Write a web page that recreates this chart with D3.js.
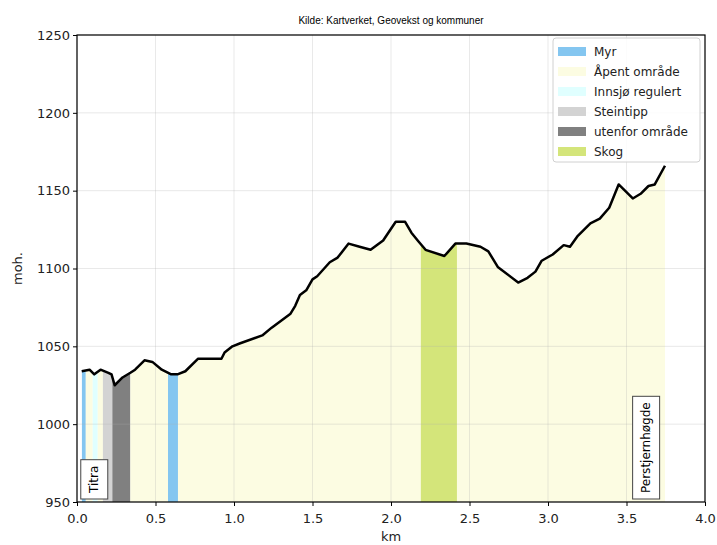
<!DOCTYPE html>
<html>
<head>
<meta charset="utf-8">
<script src="https://cdn.jsdelivr.net/npm/d3@7"></script>
<style>
  body { margin: 0; background: #fff; }
  svg { font-family: "DejaVu Sans", sans-serif; }
</style>
</head>
<body>
<svg id="chart" width="717" height="545"></svg>
<script>
// profile: distance (km) and elevation (moh.)
const distKm = [0.03, 0.08, 0.11, 0.15, 0.20, 0.22, 0.24, 0.29, 0.34, 0.37, 0.43, 0.48, 0.54, 0.60, 0.64, 0.69,
  0.77, 0.92, 0.94, 0.99, 1.04, 1.18, 1.24, 1.36, 1.39, 1.42, 1.46, 1.50, 1.53, 1.61, 1.66, 1.73, 1.80, 1.87,
  1.95, 2.03, 2.09, 2.13, 2.17, 2.22, 2.34, 2.41, 2.48, 2.57, 2.62, 2.68, 2.81, 2.87, 2.92, 2.96, 3.03, 3.10,
  3.14, 3.19, 3.27, 3.33, 3.39, 3.45, 3.54, 3.59, 3.64, 3.68, 3.745];
const elevation = [1034, 1035, 1032, 1035, 1033, 1032, 1025, 1030, 1033, 1035, 1041, 1040, 1035, 1032, 1032, 1034,
  1042, 1042, 1046, 1050, 1052, 1057, 1062, 1071, 1076, 1083, 1086, 1093, 1095, 1104, 1107, 1116, 1114, 1112,
  1118, 1130, 1130, 1123, 1118, 1112, 1108, 1116, 1116, 1114, 1111, 1101, 1091, 1094, 1098, 1105, 1109, 1115,
  1114, 1121, 1129, 1132, 1139, 1154, 1145, 1148, 1153, 1154, 1166];

// land cover segments along the route
const bandStart = [0.03, 0.056, 0.10, 0.132, 0.165, 0.225, 0.34, 0.58, 0.643, 2.19, 2.42];
const bandEnd   = [0.056, 0.10, 0.132, 0.165, 0.225, 0.34, 0.58, 0.643, 2.19, 2.42, 3.745];
const bandType  = ["Myr", "Åpent område", "Innsjø regulert", "Åpent område", "Steintipp", "utenfor område",
  "Åpent område", "Myr", "Åpent område", "Skog", "Åpent område"];

const legendNames = ["Myr", "Åpent område", "Innsjø regulert", "Steintipp", "utenfor område", "Skog"];
const legendColors = ["#84c6f0", "#fcfce2", "#e0ffff", "#d3d3d3", "#808080", "#d4e57a"];

const placeNames = ["Titra", "Perstjernhøgde"];
const placeKm = [0.11, 3.625];

const xTicks = [0, 0.5, 1, 1.5, 2, 2.5, 3, 3.5, 4];
const yTicks = [950, 1000, 1050, 1100, 1150, 1200, 1250];

const margin = { top: 35, right: 12, bottom: 43, left: 77 };
const width = 717 - margin.left - margin.right;
const height = 545 - margin.top - margin.bottom;

const svg = d3.select('#chart');
const g = svg.append('g').attr('transform', `translate(${margin.left},${margin.top})`);

const x = d3.scaleLinear().domain([0, 4]).range([0, width]);
const y = d3.scaleLinear().domain([950, 1250]).range([height, 0]);

const color = d3.scaleOrdinal().domain(legendNames).range(legendColors);

const profile = distKm.map((d, i) => ({ km: d, h: elevation[i] }));

const area = d3.area()
  .x(d => x(d.km))
  .y0(y(950))
  .y1(d => y(d.h));

// one clipped area per segment
bandType.forEach((t, i) => {
  const id = 'clip' + i;
  g.append('clipPath').attr('id', id)
    .append('rect')
    .attr('x', x(bandStart[i]))
    .attr('y', 0)
    .attr('width', x(bandEnd[i]) - x(bandStart[i]))
    .attr('height', height);
  g.append('path')
    .datum(profile)
    .attr('clip-path', `url(#${id})`)
    .attr('fill', color(t))
    .attr('d', area);
});

// grid
g.append('g')
  .selectAll('line.vx')
  .data(xTicks)
  .join('line')
  .attr('x1', d => x(d)).attr('x2', d => x(d))
  .attr('y1', 0).attr('y2', height)
  .attr('stroke', '#b0b0b0').attr('stroke-opacity', 0.35).attr('stroke-width', 0.8);
g.append('g')
  .selectAll('line.hy')
  .data(yTicks)
  .join('line')
  .attr('y1', d => y(d)).attr('y2', d => y(d))
  .attr('x1', 0).attr('x2', width)
  .attr('stroke', '#b0b0b0').attr('stroke-opacity', 0.35).attr('stroke-width', 0.8);

// profile line
g.append('path')
  .datum(profile)
  .attr('fill', 'none')
  .attr('stroke', '#000')
  .attr('stroke-width', 2.5)
  .attr('stroke-linejoin', 'round')
  .attr('d', d3.line().x(d => x(d.km)).y(d => y(d.h)));

// place labels in boxes
placeNames.forEach((name, i) => {
  const lab = g.append('g')
    .attr('transform', `translate(${x(placeKm[i])},${height - 3}) rotate(-90)`);
  const txt = lab.append('text')
    .attr('x', 6)
    .attr('y', 0)
    .attr('dy', '0.35em')
    .attr('font-size', 12)
    .attr('fill', '#000')
    .text(name);
  const w = txt.node().getComputedTextLength();
  lab.insert('rect', 'text')
    .attr('x', 0)
    .attr('y', -13.5)
    .attr('width', w + 12)
    .attr('height', 27)
    .attr('fill', '#fff')
    .attr('stroke', '#444')
    .attr('stroke-width', 1);
});

// axes
const xAxis = g.append('g')
  .attr('transform', `translate(0,${height})`)
  .call(d3.axisBottom(x).tickValues(xTicks).tickFormat(d3.format('.1f')).tickSizeOuter(0).tickSize(4));
const yAxis = g.append('g')
  .call(d3.axisLeft(y).tickValues(yTicks).tickFormat(d3.format('d')).tickSizeOuter(0).tickSize(4));
[xAxis, yAxis].forEach(a => {
  a.select('.domain').remove();
  a.selectAll('text').attr('font-size', 13).attr('fill', '#222').attr('font-family', '"DejaVu Sans", sans-serif');
  a.selectAll('line').attr('stroke', '#000');
});
xAxis.selectAll('text').attr('dy', '1.1em');

g.append('rect')
  .attr('width', width).attr('height', height)
  .attr('fill', 'none').attr('stroke', '#000').attr('stroke-width', 1.2);

// labels
svg.append('text')
  .attr('x', margin.left + width / 2).attr('y', 24)
  .attr('text-anchor', 'middle').attr('font-size', 10)
  .attr('font-family', '"Liberation Sans", sans-serif')
  .text('Kilde: Kartverket, Geovekst og kommuner');
svg.append('text')
  .attr('x', margin.left + width / 2).attr('y', 541)
  .attr('text-anchor', 'middle').attr('font-size', 13).attr('fill', '#222')
  .text('km');
svg.append('text')
  .attr('transform', `translate(22,${margin.top + height / 2}) rotate(-90)`)
  .attr('text-anchor', 'middle').attr('font-size', 13).attr('fill', '#222')
  .text('moh.');

// legend
const leg = g.append('g').attr('transform', `translate(${width - 152},3)`);
leg.append('rect')
  .attr('width', 147).attr('height', 124).attr('rx', 3)
  .attr('fill', '#fff').attr('fill-opacity', 0.85)
  .attr('stroke', '#d0d0d0');
legendNames.forEach((n, i) => {
  leg.append('rect')
    .attr('x', 5).attr('y', 9 + i * 20)
    .attr('width', 28).attr('height', 9)
    .attr('fill', legendColors[i]);
  leg.append('text')
    .attr('x', 41).attr('y', 13.5 + i * 20)
    .attr('dy', '0.35em').attr('font-size', 12).attr('fill', '#222')
    .text(n);
});
</script>
</body>
</html>
